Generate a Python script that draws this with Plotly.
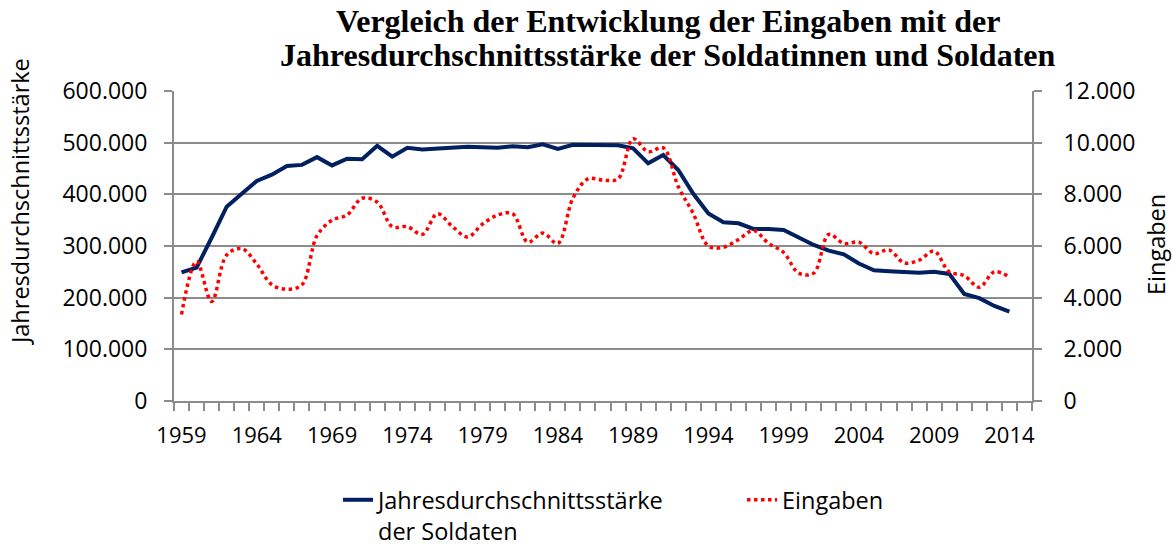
import plotly.graph_objects as go

years = list(range(1959, 2015))
staerke = [249000, 258000, 316000, 376000, 401000, 426000, 438000, 455000, 457000, 472000,
           456000, 469000, 468000, 494000, 473000, 490000, 487000, 489000, 491000, 492000,
           491000, 490000, 493000, 491000, 497000, 488000, 496000, 496000, 496000, 495000,
           489000, 460000, 476000, 447000, 401000, 363000, 346000, 344000,
           333000, 333000, 331000, 316000, 302000, 291000, 284000, 266000, 253000, 251000,
           250000, 248000, 250000, 246000, 207000, 199000, 184000, 173000]
eingaben = [3350, 5400, 3850, 5650, 5900, 5300, 4500, 4330, 4500, 6400,
            7000, 7200, 7850, 7700, 6750, 6750, 6450, 7250, 6750, 6350,
            6850, 7200, 7250, 6150, 6500, 6100, 7850, 8600, 8550, 8600,
            10150, 9650, 9800, 8300, 7250, 6000, 5950, 6250,
            6600, 6100, 5750, 4950, 4950, 6450, 6100, 6150, 5700, 5850,
            5350, 5450, 5800, 5000, 4850, 4400, 5000, 4800]
tick_years = list(range(1959, 2015, 5))
tick_labels = [str(y) for y in tick_years]

title_line1 = "Vergleich der Entwicklung der Eingaben mit der"
title_line2 = "Jahresdurchschnittsstärke der Soldatinnen und Soldaten"
name_staerke = "Jahresdurchschnittsstärke<br>der Soldaten"
name_eingaben = "Eingaben"

W, H = 1173, 545
L, R, T, B = 174, 1032, 91, 401  # plot area in window pixels

def px(x):
    return (x - L) / (R - L)

def py(y):
    return (B - y) / (B - T)

FONT = "Open Sans"
GRID = "#8c8c8c"

fig = go.Figure()
fig.add_trace(go.Scatter(x=years, y=staerke, name=name_staerke, mode="lines",
                         line=dict(color="#002060", width=4), yaxis="y"))
fig.add_trace(go.Scatter(x=years, y=eingaben, name=name_eingaben, mode="lines",
                         line=dict(color="#ff0000", width=3.5, dash="dot", shape="spline"),
                         yaxis="y2"))

fig.update_layout(
    width=W, height=H,
    margin=dict(l=L, r=W - R, t=T, b=H - B, pad=0, autoexpand=False),
    paper_bgcolor="white", plot_bgcolor="white",
    separators=",.",
    font=dict(family=FONT, size=22, color="black"),
    showlegend=True,
    legend=dict(orientation="h", x=px(338), y=py(478), xanchor="left", yanchor="top",
                valign="top", font=dict(family=FONT, size=23.5, color="black"),
                entrywidth=359, bgcolor="rgba(0,0,0,0)", tracegroupgap=0),
    xaxis=dict(range=[1958.5, 2015.5], tickmode="array", tickvals=tick_years,
               ticktext=tick_labels, ticks="", showgrid=False, zeroline=False,
               showline=True, linecolor=GRID, linewidth=2,
               tickfont=dict(family=FONT, size=22), ticklabelstandoff=14,
               minor=dict(ticks="outside", tick0=1958.5, dtick=1, ticklen=8,
                          tickcolor=GRID, tickwidth=1.5, showgrid=False)),
    yaxis=dict(range=[0, 600000], dtick=100000, tickformat=",d", showgrid=True,
               gridcolor=GRID, gridwidth=1.5, zeroline=False, showline=True,
               linecolor=GRID, linewidth=2, ticks="outside", ticklen=8,
               tickcolor=GRID, tickwidth=1.5, tickfont=dict(family=FONT, size=23),
               ticklabelstandoff=12),
    yaxis2=dict(range=[0, 12000], dtick=2000, tickformat=",d", overlaying="y",
                side="right", showgrid=False, zeroline=False, showline=True,
                linecolor=GRID, linewidth=2, ticks="outside", ticklen=8,
                tickcolor=GRID, tickwidth=1.5, tickfont=dict(family=FONT, size=23),
                ticklabelstandoff=17),
)

annotations = [
    dict(text="<b>" + title_line1 + "</b>", x=px(668), y=py(21), xref="paper", yref="paper",
         showarrow=False, xanchor="center", yanchor="middle",
         font=dict(family="Liberation Serif", size=32, color="black")),
    dict(text="<b>" + title_line2 + "</b>", x=px(668), y=py(55), xref="paper", yref="paper",
         showarrow=False, xanchor="center", yanchor="middle",
         font=dict(family="Liberation Serif", size=32, color="black")),
    dict(text="Jahresdurchschnittsstärke", x=px(20), y=py(202), xref="paper", yref="paper",
         showarrow=False, textangle=-90, xanchor="center", yanchor="middle",
         font=dict(family=FONT, size=23.5, color="black")),
    dict(text="Eingaben", x=px(1156), y=py(245), xref="paper", yref="paper",
         showarrow=False, textangle=-90, xanchor="center", yanchor="middle",
         font=dict(family=FONT, size=23.5, color="black")),
]
fig.update_layout(annotations=annotations)

fig.write_html("out.html", post_script="document.body.style.margin='0';",
               config={"displayModeBar": False})
